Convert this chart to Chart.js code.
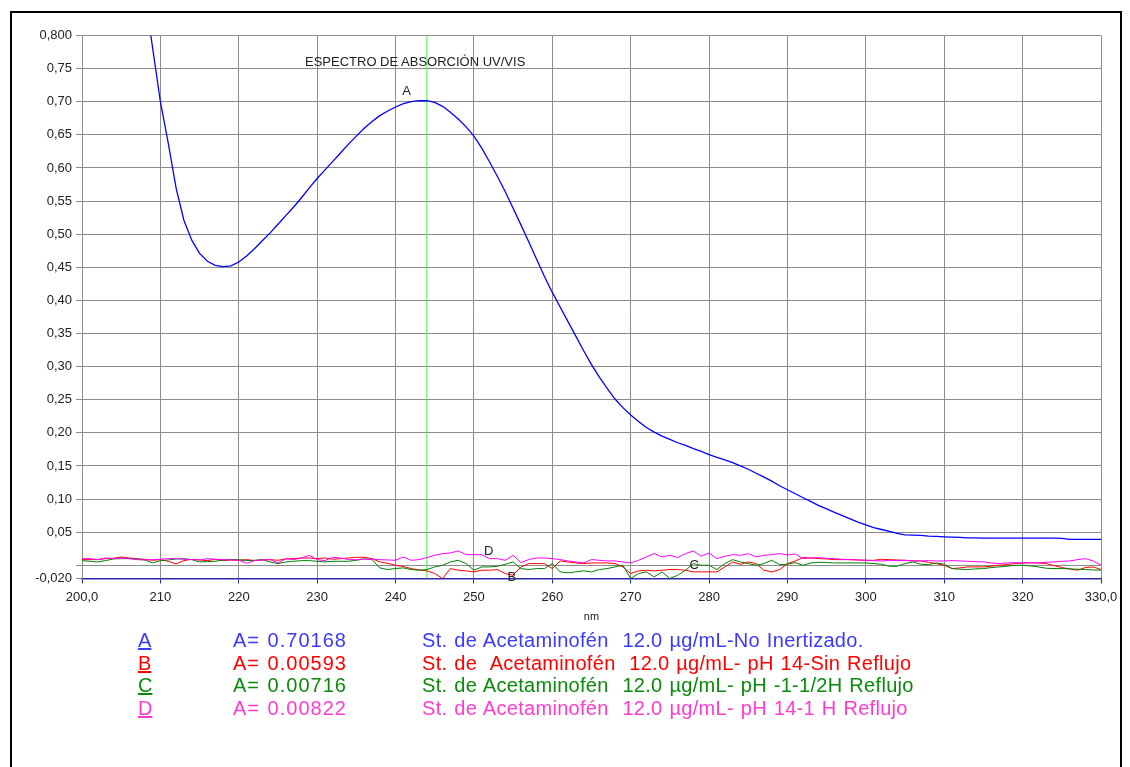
<!DOCTYPE html>
<html lang="es">
<head>
  <meta charset="UTF-8" />
  <title>Espectro de absorción UV/VIS</title>
  <script src="https://cdn.jsdelivr.net/npm/chart.js"></script>
  <style>
    html, body { margin: 0; padding: 0; background: #fff; overflow: hidden; }
    body { width: 1130px; height: 767px; position: relative; font-family: "Liberation Sans", Arial, sans-serif; }
    #frame { position: absolute; left: 10px; top: 11px; width: 1108px; height: 800px; border: 2px solid #000; }
    #chartCanvas { position: absolute; left: 0; top: 0; }
    .title { position: absolute; left: 305px; top: 54px; font-size: 13px; line-height: 15px; color: #222; white-space: pre; }
    .legend { position: absolute; left: 0; top: 629px; font-size: 20px; line-height: 22.7px; white-space: pre; letter-spacing: 0.3px; word-spacing: 1px; }
    .legend .row { position: relative; height: 22.7px; }
    .legend span { position: absolute; top: 0; }
    .legend .key { left: 138px; text-decoration: underline; letter-spacing: 0; }
    .legend .abs { left: 233px; letter-spacing: 1px; }
    .legend .desc { left: 422px; }
  </style>
</head>
<body>
  <div id="frame"></div>
  <canvas id="chartCanvas" width="1130" height="767"></canvas>
  <div class="title">ESPECTRO DE ABSORCIÓN UV/VIS</div>
  <div class="legend" id="legend"></div>

  <script>
    // longitudes de onda (nm)
    const wavelengths = [
      200, 201, 202, 203, 204, 205, 206, 207, 208, 209,
      210, 211, 212, 213, 214, 215, 216, 217, 218, 219,
      220, 221, 222, 223, 224, 225, 226, 227, 228, 229,
      230, 231, 232, 233, 234, 235, 236, 237, 238, 239,
      240, 241, 242, 243, 244, 245, 246, 247, 248, 249,
      250, 251, 252, 253, 254, 255, 256, 257, 258, 259,
      260, 261, 262, 263, 264, 265, 266, 267, 268, 269,
      270, 271, 272, 273, 274, 275, 276, 277, 278, 279,
      280, 281, 282, 283, 284, 285, 286, 287, 288, 289,
      290, 291, 292, 293, 294, 295, 296, 297, 298, 299,
      300, 301, 302, 303, 304, 305, 306, 307, 308, 309,
      310, 311, 312, 313, 314, 315, 316, 317, 318, 319,
      320, 321, 322, 323, 324, 325, 326, 327, 328, 329,
      330
    ];

    // A: St. de Acetaminofén No Inertizado
    const seriesA = [
      null, null, null, null, null, null, null, 0.95, 0.865, 0.782,
      0.700, 0.638, 0.570, 0.521, 0.491, 0.471, 0.459, 0.453, 0.451, 0.452,
      0.458, 0.467, 0.478, 0.490, 0.502, 0.515, 0.528, 0.541, 0.555, 0.570,
      0.584, 0.597, 0.610, 0.623, 0.636, 0.648, 0.660, 0.670, 0.679, 0.686,
      0.692, 0.697, 0.700, 0.7015, 0.70168, 0.699, 0.693, 0.684, 0.674, 0.662,
      0.648, 0.630, 0.609, 0.587, 0.564, 0.539, 0.514, 0.488, 0.462, 0.436,
      0.412, 0.390, 0.368, 0.346, 0.324, 0.303, 0.284, 0.267, 0.251, 0.238,
      0.227, 0.217, 0.208, 0.201, 0.195, 0.190, 0.185, 0.181, 0.176, 0.172,
      0.167, 0.163, 0.159, 0.155, 0.150, 0.145, 0.139, 0.133, 0.127, 0.120,
      0.114, 0.108, 0.102, 0.096, 0.090, 0.085, 0.080, 0.075, 0.070, 0.065,
      0.061, 0.057, 0.054, 0.051, 0.048, 0.046, 0.0455, 0.045, 0.044, 0.0435,
      0.043, 0.0425, 0.042, 0.0415, 0.0415, 0.041, 0.041, 0.041, 0.041, 0.041,
      0.041, 0.041, 0.041, 0.041, 0.041, 0.0405, 0.039, 0.039, 0.039, 0.039,
      0.039
    ];

    // B: pH 14 sin reflujo
    const seriesB = [
      0.0085, 0.0085, 0.0085, 0.010, 0.0105, 0.0125, 0.011, 0.010, 0.009, 0.0075,
      0.0085, 0.006, 0.002, 0.007, 0.009, 0.008, 0.007, 0.009, 0.007, 0.008,
      0.0075, 0.0085, 0.007, 0.008, 0.0085, 0.0075, 0.0095, 0.010, 0.011, 0.011,
      0.010, 0.011, 0.009, 0.010, 0.011, 0.012, 0.012, 0.010, 0.005, 0.003,
      0.000, -0.002, -0.005, -0.007, -0.0085, -0.0125, -0.020, -0.005, -0.0075, -0.0085,
      -0.010, -0.0075, -0.0075, -0.0065, -0.0125, -0.015, -0.0025, 0.0025, 0.0025, 0.0025,
      -0.005, 0.0065, 0.005, 0.0035, 0.0025, 0.0035, 0.0035, 0.0035, 0.0025, -0.0025,
      -0.0125, -0.0085, -0.0075, -0.0085, -0.0075, -0.0065, -0.0065, -0.0075, -0.010, -0.010,
      -0.010, -0.010, -0.0025, 0.005, 0.0015, 0.005, 0.0025, -0.0075, -0.010, -0.0065,
      0.0025, 0.0065, 0.0116, 0.011, 0.010, 0.0095, 0.0085, 0.0085, 0.0085, 0.008,
      0.0075, 0.0075, 0.009, 0.0085, 0.008, 0.0075, 0.0065, 0.0065, 0.0045, 0.0025,
      0.000, -0.005, -0.004, -0.0025, -0.0025, -0.0025, -0.0015, 0.000, 0.001, 0.0025,
      0.0035, 0.0035, 0.0035, 0.0025, -0.0005, -0.0035, -0.0055, -0.0075, -0.0035, -0.0025,
      -0.0065
    ];

    // C: pH -1 1/2 H reflujo
    const seriesC = [
      0.007, 0.006, 0.005, 0.007, 0.0095, 0.010, 0.010, 0.0095, 0.008, 0.0035,
      0.007, 0.008, 0.0095, 0.010, 0.0085, 0.005, 0.0055, 0.006, 0.008, 0.0085,
      0.0085, 0.007, 0.0075, 0.0085, 0.005, 0.0025, 0.005, 0.006, 0.007, 0.007,
      0.006, 0.005, 0.006, 0.006, 0.006, 0.0075, 0.0095, 0.0085, -0.004, -0.0065,
      -0.005, -0.004, -0.0065, -0.0075, -0.0065, -0.0025, 0.000, 0.005, 0.0075, 0.0025,
      -0.0075, -0.0025, -0.0025, -0.0015, 0.0015, 0.005, -0.005, -0.0065, -0.005, -0.005,
      0.0025, -0.010, -0.0115, -0.010, -0.0085, -0.010, -0.0065, -0.005, -0.0025, 0.000,
      -0.020, -0.0125, -0.010, -0.0175, -0.010, -0.020, -0.015, -0.0075, 0.0025, 0.000,
      0.000, -0.0065, 0.0025, 0.0085, 0.005, 0.0025, 0.000, 0.0025, 0.0075, 0.001,
      0.0015, 0.004, 0.000, 0.0035, 0.0045, 0.004, 0.0035, 0.0035, 0.0035, 0.0035,
      0.0035, 0.0025, 0.0015, -0.0015, -0.0015, 0.0025, 0.005, 0.0015, 0.001, 0.0035,
      0.0015, -0.005, -0.006, -0.0065, -0.0055, -0.005, -0.0035, -0.0025, -0.0015, 0.000,
      0.000, -0.001, -0.0025, -0.0045, -0.005, -0.005, -0.0055, -0.006, -0.0065, -0.007,
      -0.0075
    ];

    // D: pH 14 1 H reflujo
    const seriesD = [
      0.010, 0.010, 0.0085, 0.011, 0.010, 0.011, 0.010, 0.0085, 0.008, 0.0085,
      0.009, 0.010, 0.010, 0.009, 0.0085, 0.008, 0.010, 0.009, 0.0085, 0.008,
      0.0075, 0.003, 0.007, 0.008, 0.0085, 0.0035, 0.010, 0.0085, 0.011, 0.015,
      0.0085, 0.007, 0.012, 0.011, 0.0085, 0.0085, 0.0095, 0.009, 0.0085, 0.008,
      0.0075, 0.0125, 0.0075, 0.0085, 0.0116, 0.015, 0.0176, 0.0186, 0.0216, 0.016,
      0.016, 0.016, 0.010, 0.010, 0.0075, 0.015, 0.004, 0.0086, 0.011, 0.011,
      0.010, 0.0086, 0.0065, 0.005, 0.0035, 0.0086, 0.0075, 0.0065, 0.0065, 0.005,
      0.0035, 0.0075, 0.0126, 0.0176, 0.0126, 0.015, 0.0116, 0.0176, 0.0216, 0.0136,
      0.0186, 0.010, 0.0136, 0.016, 0.015, 0.0176, 0.0126, 0.015, 0.016, 0.0176,
      0.0156, 0.017, 0.010, 0.011, 0.0116, 0.0105, 0.010, 0.009, 0.0085, 0.008,
      0.0075, 0.007, 0.0065, 0.0075, 0.007, 0.0075, 0.0065, 0.0065, 0.007, 0.0065,
      0.0065, 0.007, 0.0065, 0.006, 0.0055, 0.005, 0.0035, 0.0025, 0.0035, 0.004,
      0.0035, 0.004, 0.0035, 0.0045, 0.005, 0.006, 0.0065, 0.0085, 0.010, 0.0065,
      0.000
    ];

    const peakNm = 244.0;

    const xTickValues = [200, 210, 220, 230, 240, 250, 260, 270, 280, 290, 300, 310, 320, 330];
    const xTickLabels = ['200,0', '210', '220', '230', '240', '250', '260', '270', '280', '290', '300', '310', '320', '330,0'];
    const yTickValues = [-0.02, 0, 0.05, 0.10, 0.15, 0.20, 0.25, 0.30, 0.35, 0.40, 0.45, 0.50, 0.55, 0.60, 0.65, 0.70, 0.75, 0.80];
    const yTickLabels = ['-0,020', '', '0,05', '0,10', '0,15', '0,20', '0,25', '0,30', '0,35', '0,40', '0,45', '0,50', '0,55', '0,60', '0,65', '0,70', '0,75', '0,800'];

    const legendKeys = ['A', 'B', 'C', 'D'];
    const legendAbs = ['A= 0.70168', 'A= 0.00593', 'A= 0.00716', 'A= 0.00822'];
    const legendDesc = [
      'St. de Acetaminofén  12.0 µg/mL-No Inertizado.',
      'St. de  Acetaminofén  12.0 µg/mL- pH 14-Sin Reflujo',
      'St. de Acetaminofén  12.0 µg/mL- pH -1-1/2H Reflujo',
      'St. de Acetaminofén  12.0 µg/mL- pH 14-1 H Reflujo'
    ];
    const lineColors = ['#0000ff', '#ff0000', '#008000', '#ff00ff'];
    const legendColors = ['#3a3aff', '#ff0000', '#0b8a0b', '#ff3ccf'];

    // letras sobre las curvas (nm, absorbancia)
    const curveTags = [
      { text: 'A', x: 241.4, y: 0.716 },
      { text: 'D', x: 251.9, y: 0.0216 },
      { text: 'B', x: 254.85, y: -0.0177 },
      { text: 'C', x: 278.1, y: 0.0004 }
    ];

    // legend below the plot
    const legendEl = document.getElementById('legend');
    legendKeys.forEach((k, i) => {
      const row = document.createElement('div');
      row.className = 'row';
      row.style.color = legendColors[i];
      row.innerHTML = `<span class="key">${k}</span><span class="abs">${legendAbs[i]}</span><span class="desc">${legendDesc[i]}</span>`;
      legendEl.appendChild(row);
    });

    const toPoints = (vals) => wavelengths.map((nm, i) => ({ x: nm, y: vals[i] }));

    const tagPlugin = {
      id: 'curveTags',
      afterDatasetsDraw(chart) {
        const { ctx, scales } = chart;
        ctx.save();
        ctx.font = '13px "Liberation Sans", Arial, sans-serif';
        ctx.fillStyle = '#222';
        ctx.textAlign = 'center';
        ctx.textBaseline = 'middle';
        curveTags.forEach(t => {
          ctx.fillText(t.text, scales.x.getPixelForValue(t.x), scales.y.getPixelForValue(t.y));
        });
        ctx.restore();
      }
    };

    Chart.defaults.font.family = '"Liberation Sans", Arial, sans-serif';
    Chart.defaults.font.size = 13;
    Chart.defaults.color = '#222';

    const ctx = document.getElementById('chartCanvas').getContext('2d');
    const chart = new Chart(ctx, {
      type: 'line',
      data: {
        datasets: [
          { label: 'peak', data: [{ x: peakNm, y: -0.02 }, { x: peakNm, y: 0.8 }], borderColor: '#44ee44', borderWidth: 1, order: 5 },
          { label: 'A', data: toPoints(seriesA), borderColor: lineColors[0], borderWidth: 1.3, order: 4 },
          { label: 'B', data: toPoints(seriesB), borderColor: lineColors[1], borderWidth: 1, order: 3 },
          { label: 'C', data: toPoints(seriesC), borderColor: lineColors[2], borderWidth: 1, order: 2 },
          { label: 'D', data: toPoints(seriesD), borderColor: lineColors[3], borderWidth: 1, order: 1 }
        ]
      },
      options: {
        responsive: false,
        animation: false,
        elements: { point: { radius: 0 }, line: { tension: 0, fill: false } },
        layout: { padding: { left: 12, top: 35.5, right: 29, bottom: 140.5 } },
        plugins: { legend: { display: false }, tooltip: { enabled: false }, title: { display: false } },
        scales: {
          x: {
            type: 'linear',
            min: 200,
            max: 330,
            afterBuildTicks: (axis) => { axis.ticks = xTickValues.map(v => ({ value: v })); },
            afterFit: (s) => { s.height = 48; },
            ticks: {
              autoSkip: false,
              maxRotation: 0,
              padding: 6,
              color: '#222',
              callback: (v, i) => xTickLabels[i]
            },
            grid: { color: '#8c8c8c', lineWidth: 1, tickLength: 5, tickColor: '#2a2aa8' },
            border: { color: '#2a2aa8', width: 1.5 },
            title: { display: true, text: 'nm', font: { size: 11 }, color: '#222', padding: { top: 2, bottom: 3 } }
          },
          y: {
            type: 'linear',
            min: -0.02,
            max: 0.8,
            afterBuildTicks: (axis) => { axis.ticks = yTickValues.map(v => ({ value: v })); },
            afterFit: (s) => { s.width = 70; },
            ticks: {
              autoSkip: false,
              padding: 4,
              color: '#222',
              callback: (v, i) => yTickLabels[i]
            },
            grid: {
              color: (c) => (c.tick && c.tick.value === -0.02 ? 'rgba(0,0,0,0)' : '#8c8c8c'),
              lineWidth: 1,
              tickLength: 6,
              tickColor: '#8c8c8c'
            },
            border: { color: '#8c8c8c', width: 1 }
          }
        }
      },
      plugins: [tagPlugin]
    });
  </script>
</body>
</html>
